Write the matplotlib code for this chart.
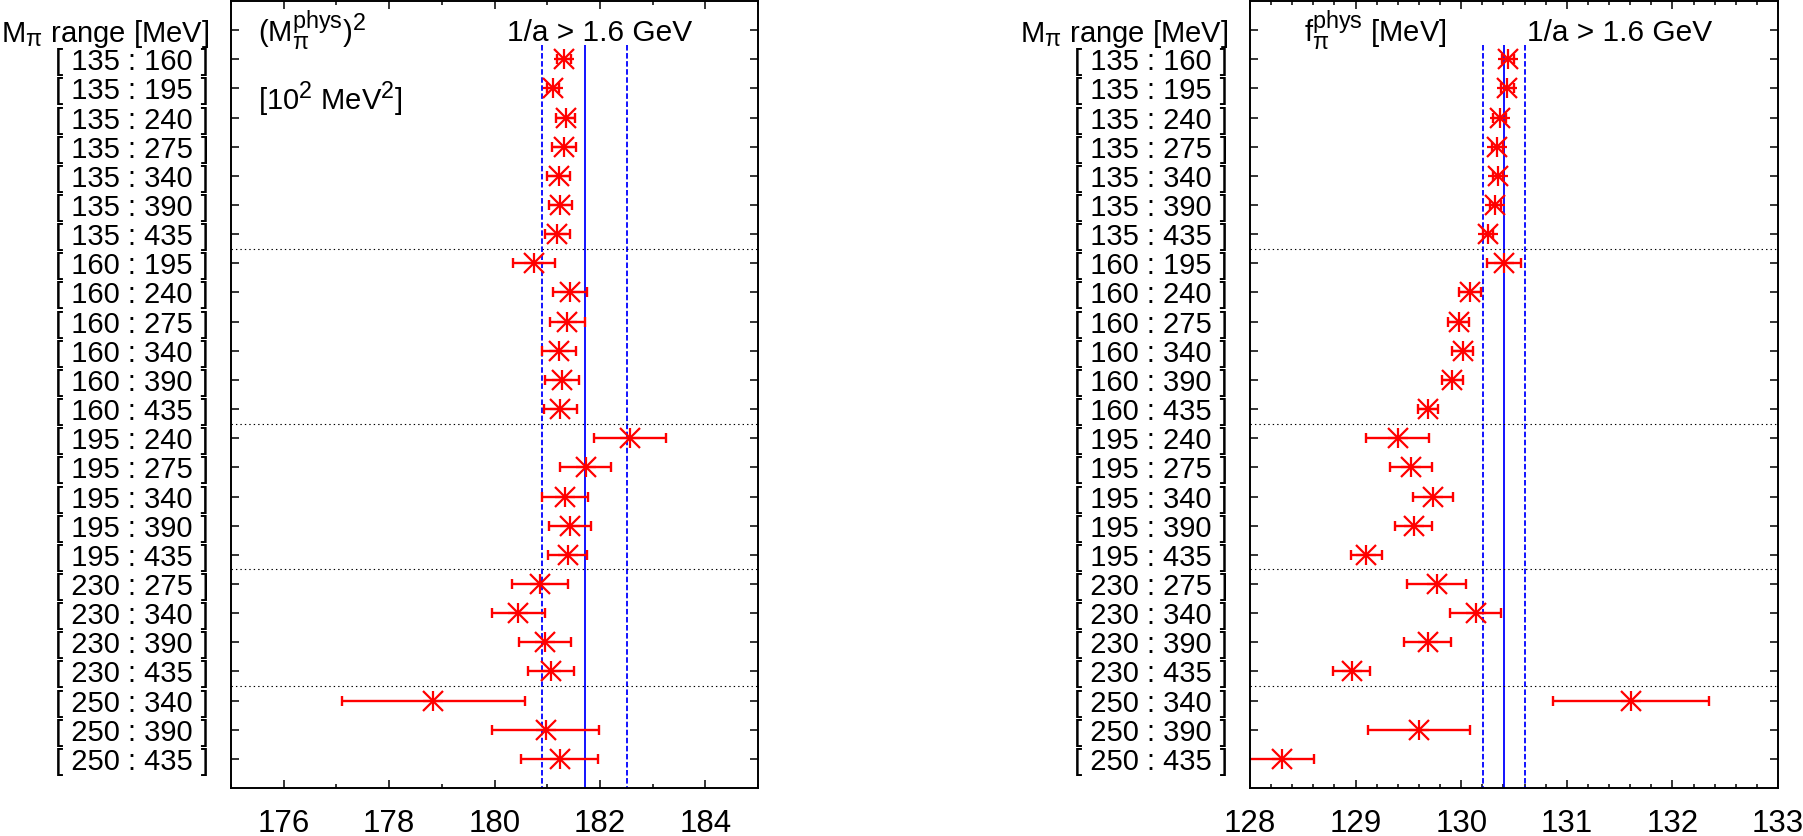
import numpy as np
import matplotlib
import matplotlib.pyplot as plt
from matplotlib.ticker import MultipleLocator

plt.rcParams['font.family'] = ['Liberation Sans', 'DejaVu Sans']
plt.rcParams['mathtext.fontset'] = 'custom'
plt.rcParams['mathtext.rm'] = 'Liberation Sans'
plt.rcParams['mathtext.it'] = 'Liberation Sans:italic'
plt.rcParams['mathtext.bf'] = 'Liberation Sans:bold'
plt.rcParams['lines.scale_dashes'] = False
# larger sub/superscripts, closer to the gnuplot look
matplotlib._mathtext.SHRINK_FACTOR = 0.8

# fit ranges in pion mass
ranges = ["[ 135 : 160 ]", "[ 135 : 195 ]", "[ 135 : 240 ]", "[ 135 : 275 ]",
          "[ 135 : 340 ]", "[ 135 : 390 ]", "[ 135 : 435 ]",
          "[ 160 : 195 ]", "[ 160 : 240 ]", "[ 160 : 275 ]", "[ 160 : 340 ]",
          "[ 160 : 390 ]", "[ 160 : 435 ]",
          "[ 195 : 240 ]", "[ 195 : 275 ]", "[ 195 : 340 ]", "[ 195 : 390 ]",
          "[ 195 : 435 ]",
          "[ 230 : 275 ]", "[ 230 : 340 ]", "[ 230 : 390 ]", "[ 230 : 435 ]",
          "[ 250 : 340 ]", "[ 250 : 390 ]", "[ 250 : 435 ]"]

# (M_pi^phys)^2 in 10^2 MeV^2
mpi2 = [181.32, 181.11, 181.35, 181.32, 181.22, 181.25, 181.19,
        180.75, 181.43, 181.38, 181.22, 181.28, 181.25,
        182.57, 181.73, 181.34, 181.44, 181.39,
        180.87, 180.45, 180.96, 181.07,
        178.84, 180.97, 181.24]
mpi2_err = [0.14, 0.12, 0.18, 0.23, 0.22, 0.22, 0.24,
            0.39, 0.32, 0.33, 0.32, 0.32, 0.31,
            0.68, 0.48, 0.43, 0.40, 0.37,
            0.53, 0.50, 0.49, 0.43,
            1.73, 1.02, 0.73]

# f_pi^phys in MeV
fpi = [130.444, 130.438, 130.365, 130.343, 130.349, 130.324, 130.254,
       130.403, 130.083, 129.975, 130.013, 129.917, 129.683,
       129.397, 129.524, 129.733, 129.549, 129.102,
       129.768, 130.137, 129.683, 128.962,
       131.61, 129.603, 128.30]
fpi_err = [0.06, 0.06, 0.06, 0.05, 0.05, 0.05, 0.05,
           0.163, 0.106, 0.10, 0.10, 0.10, 0.095,
           0.30, 0.20, 0.186, 0.173, 0.148,
           0.28, 0.24, 0.222, 0.178,
           0.74, 0.484, 0.308]

# final results (central value, error) for 1/a > 1.6 GeV
mpi2_band = (181.71, 0.81)
fpi_band = (130.406, 0.20)

group_breaks = [7.5, 13.5, 18.5, 22.5]

header = r"M$_\mathregular{\pi}$ range [MeV]"
cut_label = "1/a > 1.6 GeV"


def draw_panel(ax, vals, errs, band, xlim, major, minor, titles):
    y = np.arange(1, len(vals) + 1)
    n = len(vals)
    center, half = band
    ax.vlines(center, 0.5, n + 1, color='blue', lw=1.3)
    ax.vlines([center - half, center + half], 0.5, n + 1, color='blue',
              lw=1.3, linestyles=[(0, (4, 1.8))])
    for b in group_breaks:
        ax.axhline(b, color='black', lw=0.8, ls=(0, (1, 2.2)))

    ax.errorbar(vals, y, xerr=errs, fmt='none', ecolor='red',
                elinewidth=1.7, capsize=3.6, capthick=1.7)
    for m in ['+', 'x']:
        ax.plot(vals, y, ls='none', marker=m, ms=14, mew=1.6, color='red')

    ax.set_xlim(*xlim)
    ax.set_ylim(n + 1, -1)
    ax.xaxis.set_major_locator(MultipleLocator(major))
    ax.xaxis.set_minor_locator(MultipleLocator(minor))
    ax.tick_params(axis='x', which='both', direction='in', top=True,
                   bottom=True, labelsize=22.5, pad=15, width=1.1)
    ax.tick_params(axis='x', which='major', length=5.8)
    ax.tick_params(axis='x', which='minor', length=3.0)
    ax.set_yticks(np.arange(0, n + 1))
    ax.set_yticklabels([header] + ranges)
    ax.tick_params(axis='y', direction='in', left=True, right=True,
                   length=5.8, width=1.1, labelsize=21, pad=16)
    for s in ax.spines.values():
        s.set_linewidth(1.4)

    tr = ax.get_yaxis_transform()
    for (tx, ty, txt) in titles:
        ax.text(tx, ty, txt, transform=tr, fontsize=21, va='baseline')
    ax.text(0.524, 0.38, cut_label, transform=tr, fontsize=21.5, va='baseline')


fig = plt.figure(figsize=(18.03, 8.36), dpi=100)
ax1 = fig.add_axes([231 / 1803, 48 / 836, 527 / 1803, 787 / 836])
ax2 = fig.add_axes([1250 / 1803, 48 / 836, 528 / 1803, 787 / 836])

draw_panel(ax1, mpi2, mpi2_err, mpi2_band, (175, 185), 2, 1,
           [(0.051, 0.4, r"(M$_\mathregular{\pi}^\mathregular{phys}$)$^\mathregular{2}$"),
            (0.051, 2.74, r"[10$^\mathregular{2}$ MeV$^\mathregular{2}$]")])
draw_panel(ax2, fpi, fpi_err, fpi_band, (128, 133), 1, 0.2,
           [(0.1015, 0.4, r"f$_\mathregular{\pi}^\mathregular{phys}$ [MeV]")])

fig.savefig("out.png", dpi=100)
